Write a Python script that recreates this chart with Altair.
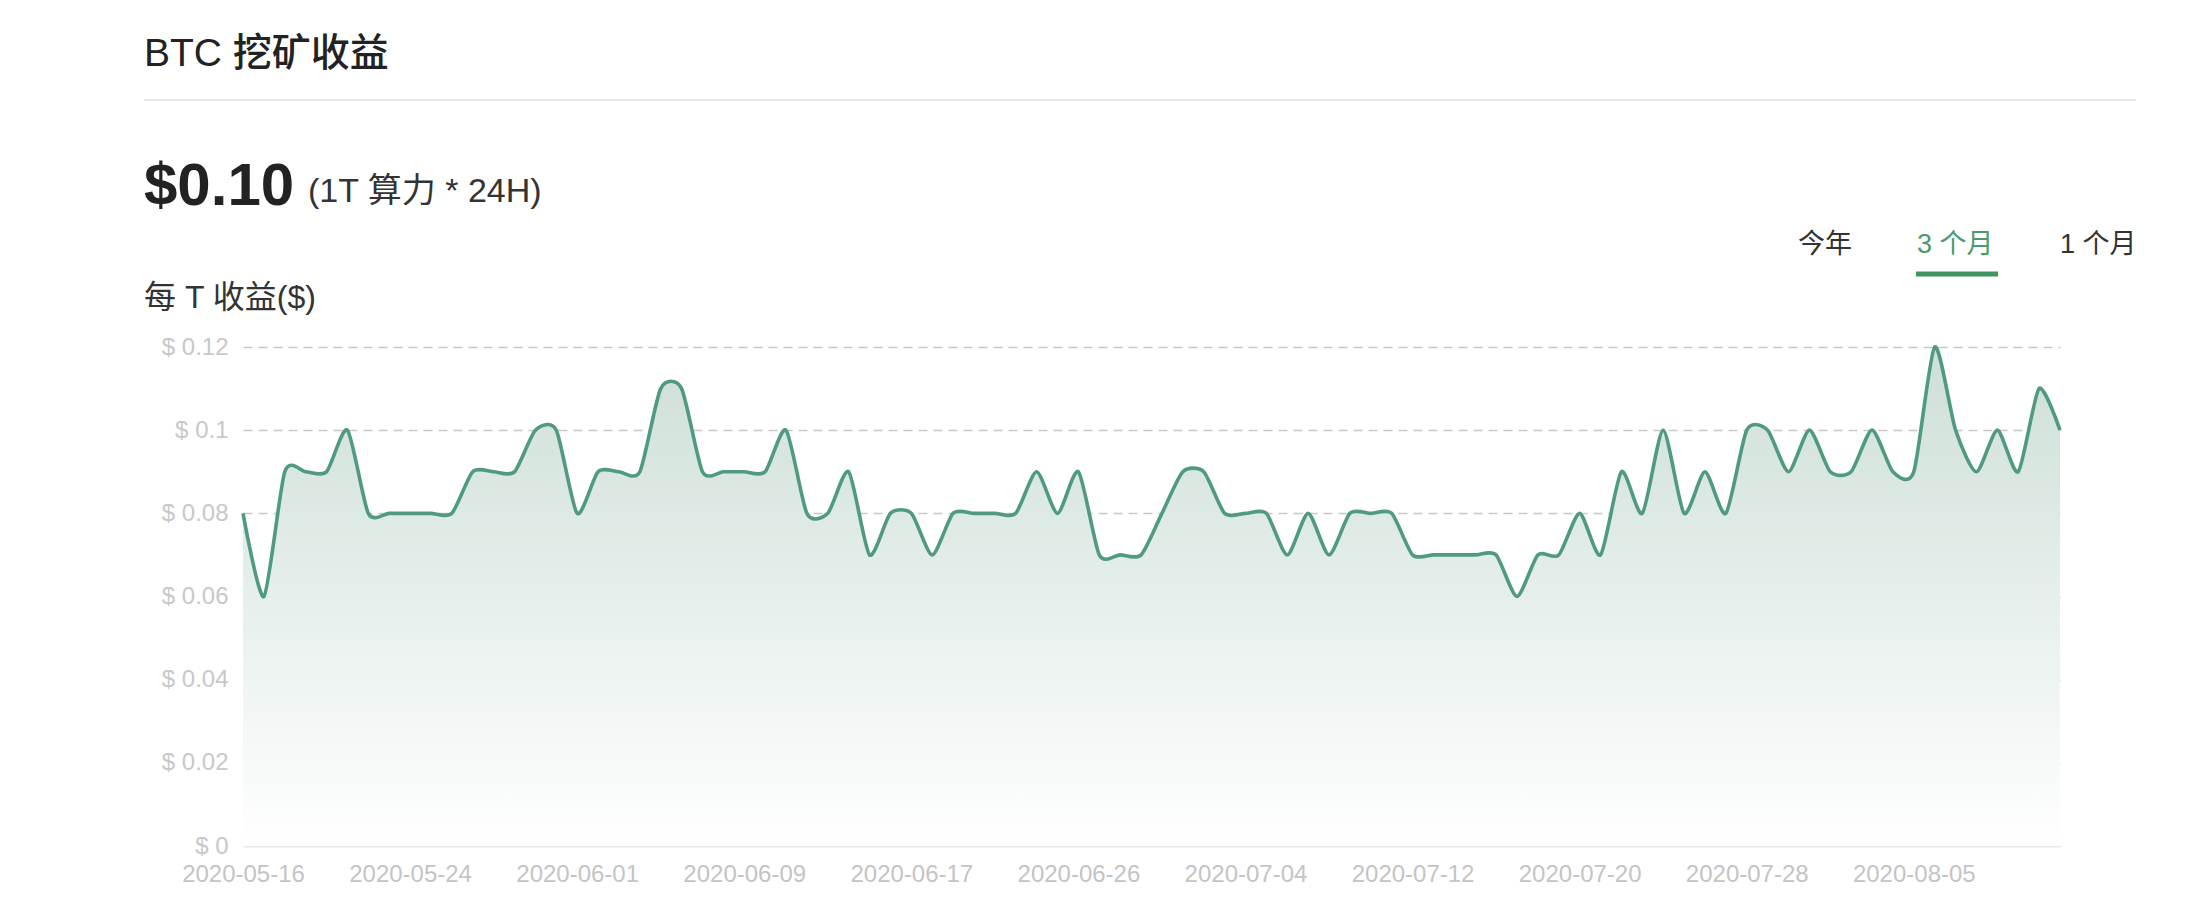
import altair as alt
import pandas as pd

# ---- data ----
values = [
    0.08, 0.06, 0.09, 0.09, 0.09, 0.10, 0.08, 0.08, 0.08, 0.08,
    0.08, 0.09, 0.09, 0.09, 0.10, 0.10, 0.08, 0.09, 0.09, 0.09,
    0.11, 0.11, 0.09, 0.09, 0.09, 0.09, 0.10, 0.08, 0.08, 0.09,
    0.07, 0.08, 0.08, 0.07, 0.08, 0.08, 0.08, 0.08, 0.09, 0.08,
    0.09, 0.07, 0.07, 0.07, 0.08, 0.09, 0.09, 0.08, 0.08, 0.08,
    0.07, 0.08, 0.07, 0.08, 0.08, 0.08, 0.07, 0.07, 0.07, 0.07,
    0.07, 0.06, 0.07, 0.07, 0.08, 0.07, 0.09, 0.08, 0.10, 0.08,
    0.09, 0.08, 0.10, 0.10, 0.09, 0.10, 0.09, 0.09, 0.10, 0.09,
    0.09, 0.12, 0.10, 0.09, 0.10, 0.09, 0.11, 0.10,
]
missing_day = "2020-06-25"
dates = [d.strftime("%Y-%m-%d") for d in pd.date_range("2020-05-16", "2020-08-12")
         if d.strftime("%Y-%m-%d") != missing_day]
x_tick_labels = ["2020-05-16", "2020-05-24", "2020-06-01", "2020-06-09", "2020-06-17",
                 "2020-06-26", "2020-07-04", "2020-07-12", "2020-07-20", "2020-07-28",
                 "2020-08-05"]
y_ticks = [0, 0.02, 0.04, 0.06, 0.08, 0.1, 0.12]

df = pd.DataFrame({"date": dates, "value": values})

FONT = "Helvetica Neue, Helvetica, Arial, Liberation Sans, Noto Sans CJK SC, sans-serif"
LINE = "#4f9a80"
GREEN = "#4c9a6b"

X = alt.X("date:O", sort=None, scale=alt.Scale(type="point", padding=0),
          axis=alt.Axis(values=x_tick_labels, labelAngle=0, ticks=False, tickSize=0,
                        domain=True, domainColor="#e6e6e6", domainWidth=2, grid=False,
                        labelColor="#c4c4c4", labelFontSize=24, labelFont=FONT,
                        labelPadding=16, labelOverlap=False, title=None))
Y = alt.Y("value:Q", scale=alt.Scale(domain=[0, 0.12], nice=False, zero=True),
          axis=alt.Axis(values=y_ticks, labelExpr="'$ ' + datum.value",
                        grid=True, gridDash=[9, 6], gridColor="#c6c6c6", gridWidth=1.5,
                        gridOpacity={"condition": {"test": "datum.value === 0", "value": 0}, "value": 1},
                        domain=False, ticks=False, tickSize=0, labelPadding=15,
                        labelColor="#c8c8c8", labelFontSize=24, labelFont=FONT, title=None))

base = alt.Chart(df)
area = base.mark_area(
    interpolate="cardinal", tension=0.3,
    color=alt.Gradient(gradient="linear",
                       stops=[alt.GradientStop(color="#cddfd7", offset=0),
                              alt.GradientStop(color="#ffffff", offset=1)],
                       x1=1, x2=1, y1=0, y2=1),
).encode(x=X, y=Y)
line = base.mark_line(interpolate="cardinal", tension=0.3, color=LINE,
                      strokeWidth=3.6).encode(x=X, y=Y)


def txt(text, x, y, size, color="#222222", weight="normal", baseline="alphabetic"):
    return alt.Chart(alt.Data(values=[{"k": 1}])).mark_text(
        text=text, align="left", baseline=baseline, fontSize=size,
        fontWeight=weight, color=color, font=FONT,
    ).encode(x=alt.value(x), y=alt.value(y))


def rule(x1, x2, y, color, width):
    return alt.Chart(alt.Data(values=[{"k": 1}])).mark_rule(
        color=color, strokeWidth=width, strokeCap="butt"
    ).encode(x=alt.value(x1), x2=alt.value(x2), y=alt.value(y))


title = txt("BTC 挖矿收益", -99, -281, 39, "#222222", 500)
sep = rule(-99, 1893, -247, "#e8e8e8", 2)
big = txt("$0.10", -99, -142, 60, "#222222", "bold")
unit = txt("(1T 算力 * 24H)", 65, -145, 34, "#333333")
tab1 = txt("今年", 1555, -102, 27, "#333333", baseline="middle")
tab2 = txt("3 个月", 1674, -102, 27, GREEN, baseline="middle")
tab3 = txt("1 个月", 1817, -102, 27, "#333333", baseline="middle")
underline = rule(1673, 1755, -73, "#3f945f", 5)
ylab = txt("每 T 收益($)", -99, -49, 32, "#333333", baseline="middle")

chart = alt.layer(area, line, title, sep, big, unit, tab1, tab2, tab3, underline, ylab).properties(
    width=1817, height=499,
    padding={"left": 235, "top": 339, "right": 88, "bottom": 46},
    autosize=alt.AutoSizeParams(type="none"),
    background="#ffffff",
).configure_view(stroke=None)

chart.save("out.html", embed_options={"renderer": "svg", "actions": False})
